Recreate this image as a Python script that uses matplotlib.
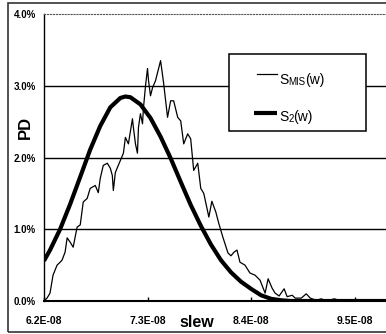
import matplotlib
matplotlib.use("Agg")
import matplotlib.pyplot as plt
from matplotlib.patches import Rectangle
from matplotlib.lines import Line2D
import numpy as np

plt.rcParams['font.family'] = ['Liberation Sans', 'DejaVu Sans']

# ---- data ----
# S_MIS(w): measured distribution (slew in ns, PD in %)
smis_ns = [62.00, 62.32, 62.64, 62.96, 63.39, 63.71, 63.92, 64.24, 64.46, 64.78,
           65.10, 65.52, 65.85, 66.17, 66.59, 66.91, 67.45, 67.77, 67.98, 68.30,
           68.73, 69.05, 69.26, 69.37, 69.58, 69.80, 70.12, 70.44, 70.65, 70.97,
           71.40, 71.50, 71.72, 71.93, 72.04, 72.25, 72.47, 72.57, 72.79, 73.00,
           73.11, 73.32, 73.53, 73.85, 74.18, 74.39, 74.71, 75.13, 75.46, 75.78,
           76.21, 76.53, 76.85, 77.27, 77.59, 77.91, 78.34, 78.66, 78.98, 79.52,
           79.84, 80.26, 80.58, 81.01, 81.55, 81.87, 82.19, 82.51, 82.83, 83.36,
           83.89, 84.43, 84.96, 85.50, 85.82, 86.24, 86.56, 86.99, 87.52, 87.84,
           88.38, 88.70, 89.34, 89.87, 90.30, 90.94, 91.47, 92.01, 92.86, 93.61,
           95.75, 98.50]
smis_pd = [0.00, 0.04, 0.11, 0.36, 0.50, 0.54, 0.57, 0.68, 0.88, 0.82,
           0.75, 1.03, 1.06, 1.38, 1.43, 1.57, 1.61, 1.51, 1.71, 1.89,
           1.92, 1.85, 1.75, 1.54, 1.79, 1.86, 1.96, 2.06, 2.28, 2.19,
           2.54, 2.42, 2.19, 2.06, 2.42, 2.61, 2.47, 2.69, 3.00, 3.24,
           3.07, 2.86, 2.97, 3.07, 3.24, 3.35, 3.04, 2.56, 2.79, 2.79,
           2.56, 2.51, 2.19, 2.33, 2.26, 1.82, 1.92, 1.57, 1.50, 1.17,
           1.39, 1.24, 1.08, 0.89, 0.67, 0.63, 0.68, 0.71, 0.54, 0.50,
           0.39, 0.36, 0.29, 0.11, 0.31, 0.18, 0.11, 0.07, 0.17, 0.06,
           0.08, 0.04, 0.04, 0.10, 0.04, 0.01, 0.03, 0.00, 0.03, 0.00,
           0.01, 0.00]

# S2(w): smooth model distribution
s2_ns = [62.00, 62.64, 63.71, 64.78, 65.85, 66.91, 67.98, 69.05, 70.12, 70.65,
         71.18, 72.25, 73.32, 74.39, 75.46, 76.53, 77.59, 78.66, 79.73, 80.80,
         81.87, 82.93, 84.00, 85.07, 86.14, 87.20, 88.27, 89.34, 91.48, 98.50]
s2_pd = [0.56, 0.71, 1.00, 1.35, 1.73, 2.11, 2.44, 2.70, 2.83, 2.85,
         2.84, 2.74, 2.55, 2.29, 1.99, 1.66, 1.34, 1.05, 0.79, 0.57,
         0.40, 0.27, 0.17, 0.08, 0.03, 0.01, 0.00, 0.00, 0.00, 0.00]

x_ticks = [6.2e-8, 7.3e-8, 8.4e-8, 9.5e-8]
x_tick_labels = ["6.2E-08", "7.3E-08", "8.4E-08", "9.5E-08"]
y_ticks = [0, 1, 2, 3, 4]
y_tick_labels = ["0.0%", "1.0%", "2.0%", "3.0%", "4.0%"]

# ---- figure ----
W, H = 386, 334
fig = plt.figure(figsize=(W / 100, H / 100), dpi=100)
fig.patch.set_facecolor('white')

L, R, T, B = 44, 386, 14, 301
ax = fig.add_axes([L / W, 1 - B / H, (R - L) / W, (B - T) / H])

xs_mis = np.array(smis_ns) * 1e-9
xs_s2 = np.array(s2_ns) * 1e-9
ax.plot(xs_mis, smis_pd, color='black', lw=0.9, zorder=3)
ax.plot(xs_s2, s2_pd, color='black', lw=3.0, zorder=3, solid_capstyle='butt')

ax.set_xlim(6.2e-8, 6.2e-8 + (R - L) / 103.5 * 1.1e-8)
ax.set_ylim(0, 4)

ax.set_xticks(x_ticks)
ax.set_xticklabels(x_tick_labels)
ax.set_yticks(y_ticks)
ax.set_yticklabels(y_tick_labels)
ax.tick_params(axis='x', direction='in', length=3, width=1, pad=11,
               labelsize=7.5)
ax.tick_params(axis='y', length=0, pad=6, labelsize=7)
for lab in ax.get_xticklabels() + ax.get_yticklabels():
    lab.set_fontweight('bold')

for yv in [1, 2, 3]:
    ax.axhline(yv, color='black', lw=1.0, zorder=1)

ax.spines['right'].set_visible(False)
ax.spines['top'].set_linestyle(':')
ax.spines['top'].set_color('#555555')
ax.spines['top'].set_linewidth(0.8)
ax.spines['left'].set_linewidth(1.0)
ax.spines['bottom'].set_linewidth(1.5)

ax.set_xlabel('slew', fontsize=11.5, fontweight='bold')
ax.xaxis.set_label_coords((197 - L) / (R - L), (B - 315) / (B - T))
ax.set_ylabel('PD', fontsize=12, fontweight='bold', va='center')
ax.yaxis.set_label_coords((25 - L) / (R - L), (B - 127) / (B - T))

# ---- legend (drawn manually to mimic small-caps labels) ----
def ax_pt(px, py):
    return ((px - L) / (R - L), (B - py) / (B - T))

bx0, by0 = ax_pt(229, 131)
bx1, by1 = ax_pt(366, 54)
ax.add_patch(Rectangle((bx0, by0), bx1 - bx0, by1 - by0, transform=ax.transAxes,
                       facecolor='white', edgecolor='black', lw=1.1, zorder=5))

(lx0, ly0), (lx1, _) = ax_pt(257, 74), ax_pt(277, 74)
ax.add_line(Line2D([lx0, lx1], [ly0, ly0], transform=ax.transAxes,
                   color='black', lw=0.9, zorder=6))
(lx0, ly0), (lx1, _) = ax_pt(254, 113), ax_pt(277, 113)
ax.add_line(Line2D([lx0, lx1], [ly0, ly0], transform=ax.transAxes,
                   color='black', lw=3.0, zorder=6, solid_capstyle='butt'))

def label(px, py, parts):
    x, y = ax_pt(px, py)
    prev = ax.text(x, y, parts[0][0], fontsize=parts[0][1], transform=ax.transAxes,
                   va='baseline', ha='left', zorder=7)
    for txt, sz in parts[1:]:
        prev = ax.annotate(txt, xy=(1, 0), xycoords=prev, fontsize=sz,
                           va='bottom', ha='left', zorder=7)

label(279, 84, [("S", 10), ("MIS", 7), ("(w)", 10)])
label(279, 121, [("S", 10), ("2", 7), ("(w)", 10)])

# outer frame
fig.add_artist(Rectangle((8 / W, (H - 332) / H), 1.0, (332 - 3) / H,
                         transform=fig.transFigure, fill=False,
                         edgecolor='#333333', lw=1.2))

fig.savefig('out.png', dpi=100, facecolor='white')
